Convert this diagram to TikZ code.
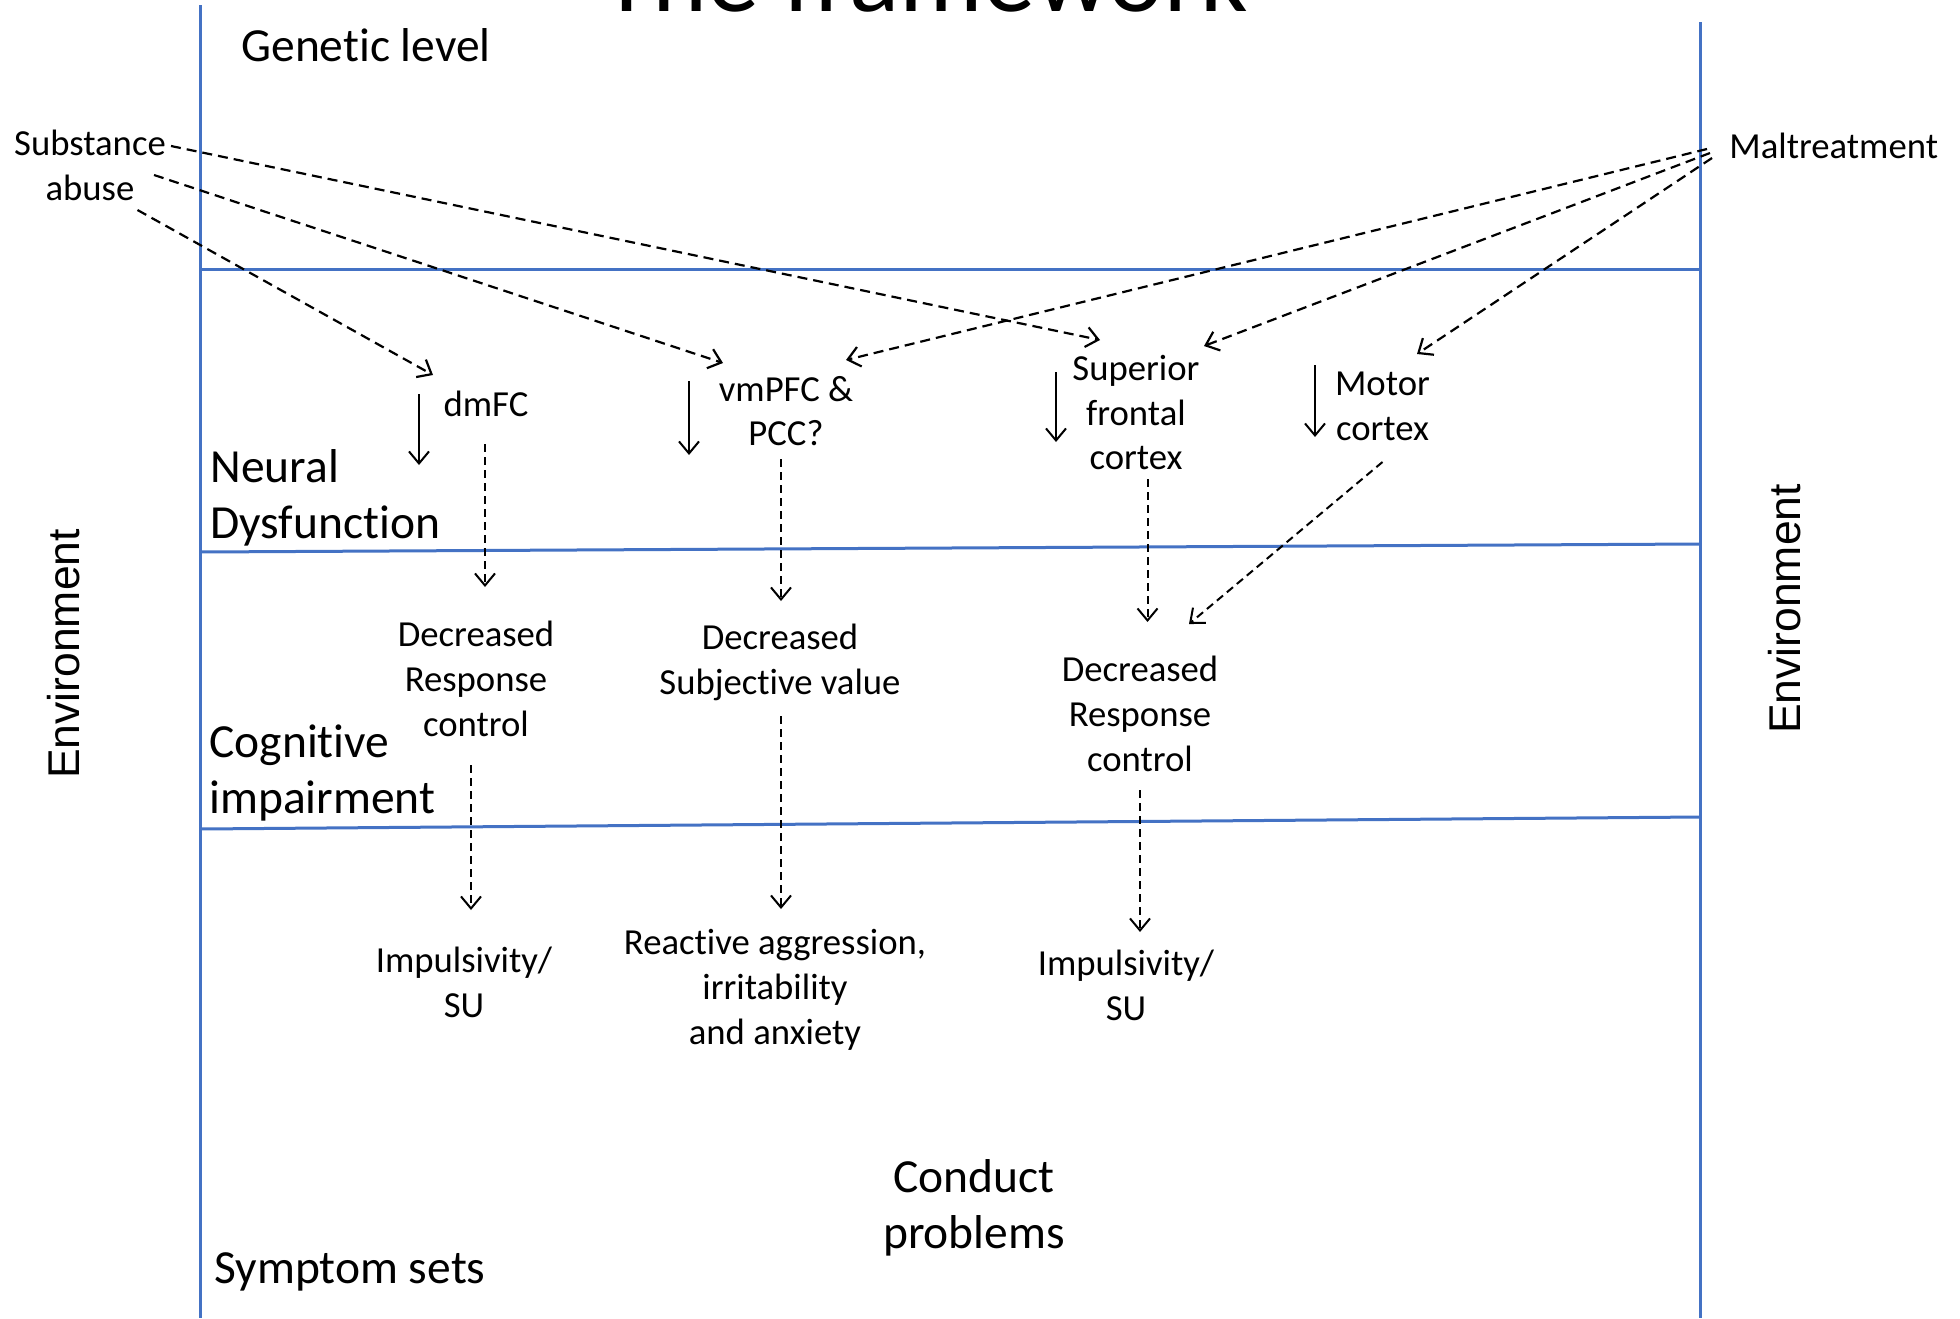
\documentclass[tikz,border=0pt]{standalone}
\usepackage{fontspec}
\setmainfont{Carlito}[Ligatures=NoCommon]
\newfontfamily\envfont{Liberation Sans}
\usetikzlibrary{arrows.meta}
\definecolor{lanecol}{HTML}{4472C4}
\begin{document}
\begin{tikzpicture}[x=0.5pt,y=-0.5pt,
  lane/.style={draw=lanecol, line width=1.5pt},
  lbl/.style={font=\fontsize{18.35}{22.4}\selectfont, align=center, inner sep=0pt},
  big/.style={font=\fontsize{23.75}{28}\selectfont, align=left, inner sep=0pt, anchor=west},
  envlbl/.style={font=\envfont\fontsize{22.25}{26}\selectfont, inner sep=0pt, rotate=90},
  tipstyle/.style={-{Straight Barb[length=6pt,width=10pt]}},
  dasharrow/.style={draw, line width=1.1pt, dash pattern=on 5pt off 3pt, tipstyle},
  vdasharrow/.style={draw, line width=1pt, dash pattern=on 4pt off 2.5pt, tipstyle},
  solidarrow/.style={draw, line width=1pt, tipstyle}]
\useasboundingbox (0,0) rectangle (1960,1318);
\clip (0,0) rectangle (1960,1318);
\fill[white] (0,0) rectangle (1960,1318);

% lanes
\draw[lane] (200,5) -- (200,1318);
\draw[lane] (1700,22) -- (1700,1318);
\draw[lane] (200,269) -- (1700,269);
\draw[lane] (200,552) -- (1700,544);
\draw[lane] (200,829) -- (1700,817);

% title (cut off at the top edge, as in the reference)
\node[font=\fontsize{52.3}{60}\selectfont, anchor=base, inner sep=0pt] (title) at (925,11) {The framework};

% level labels
\node[big] (genetic) at (241,45) {Genetic level};
\node[big] (neural) at (210,498) {Neural\\Dysfunction};
\node[big] (cognitive) at (209,773) {Cognitive\\impairment};
\node[big] (symptom) at (214,1272) {Symptom sets};
\node[big, align=center, anchor=center] (conduct) at (974,1208) {Conduct\\problems};

\node[envlbl] (envL) at (64,654) {Environment};
\node[envlbl] (envR) at (1785,609) {Environment};

% environment factors
\node[lbl] (subst) at (90,165) {Substance\\abuse};
\node[lbl, anchor=west] (malt) at (1729,146) {Maltreatment};

% neural nodes
\node[lbl] (dmfc) at (486,404) {dmFC};
\node[lbl] (vmpfc) at (786,411) {vmPFC \&\\PCC?};
\node[lbl] (sfc) at (1136,412.5) {Superior\\frontal\\cortex};
\node[lbl] (motor) at (1382.5,406) {Motor\\cortex};

% cognitive nodes
\node[lbl] (drc1) at (476,679) {Decreased\\Response\\control};
\node[lbl] (dsv) at (780,662.5) {Decreased\\Subjective value};
\node[lbl] (drc2) at (1140,714) {Decreased\\Response\\control};

% symptom nodes
\node[lbl] (imp1) at (464,982.5) {Impulsivity/\\SU};
\node[lbl] (react) at (775,990) {Reactive aggression,\\irritability\\and anxiety};
\node[lbl] (imp2) at (1126,985) {Impulsivity/\\SU};

% connector end points
\coordinate (substOutA) at (171,146);
\coordinate (substOutB) at (154,175);
\coordinate (substOutC) at (137.5,210);
\coordinate (maltOutA) at (1707,149);
\coordinate (maltOutB) at (1710,153);
\coordinate (maltOutC) at (1712,158);
\coordinate (sfcInA) at (1100,340);
\coordinate (vmpfcInA) at (723,363);
\coordinate (dmfcInA) at (433,375);
\coordinate (vmpfcInB) at (846,360);
\coordinate (sfcInB) at (1204,346);
\coordinate (motorInA) at (1417,354);

\coordinate (dmfcOut) at (485,444);
\coordinate (drc1In) at (485,587);
\coordinate (vmpfcOut) at (781,459);
\coordinate (dsvIn) at (781,601);
\coordinate (sfcOut) at (1147.5,479);
\coordinate (drc2InA) at (1147.5,622);
\coordinate (motorOut) at (1382.5,462);
\coordinate (drc2InB) at (1189,624);
\coordinate (drc1Out) at (471,765);
\coordinate (imp1In) at (471,910);
\coordinate (dsvOut) at (781,716);
\coordinate (reactIn) at (781,909);
\coordinate (drc2Out) at (1140,790);
\coordinate (imp2In) at (1140,932);

\coordinate (dmfcDecA) at (419,394);
\coordinate (dmfcDecB) at (419,465);
\coordinate (vmpfcDecA) at (689,381);
\coordinate (vmpfcDecB) at (689,455);
\coordinate (sfcDecA) at (1056,372);
\coordinate (sfcDecB) at (1056,442);
\coordinate (motorDecA) at (1315,365);
\coordinate (motorDecB) at (1315,437);

% environment -> neural
\draw[dasharrow] (substOutA) -- (sfcInA);
\draw[dasharrow] (substOutB) -- (vmpfcInA);
\draw[dasharrow] (substOutC) -- (dmfcInA);
\draw[dasharrow] (maltOutA) -- (vmpfcInB);
\draw[dasharrow] (maltOutB) -- (sfcInB);
\draw[dasharrow] (maltOutC) -- (motorInA);

% decrease markers
\draw[solidarrow] (dmfcDecA) -- (dmfcDecB);
\draw[solidarrow] (vmpfcDecA) -- (vmpfcDecB);
\draw[solidarrow] (sfcDecA) -- (sfcDecB);
\draw[solidarrow] (motorDecA) -- (motorDecB);

% neural -> cognitive
\draw[vdasharrow] (dmfcOut) -- (drc1In);
\draw[vdasharrow] (vmpfcOut) -- (dsvIn);
\draw[vdasharrow] (sfcOut) -- (drc2InA);
\draw[vdasharrow] (motorOut) -- (drc2InB);

% cognitive -> symptoms
\draw[vdasharrow] (drc1Out) -- (imp1In);
\draw[vdasharrow] (dsvOut) -- (reactIn);
\draw[vdasharrow] (drc2Out) -- (imp2In);
\end{tikzpicture}
\end{document}
